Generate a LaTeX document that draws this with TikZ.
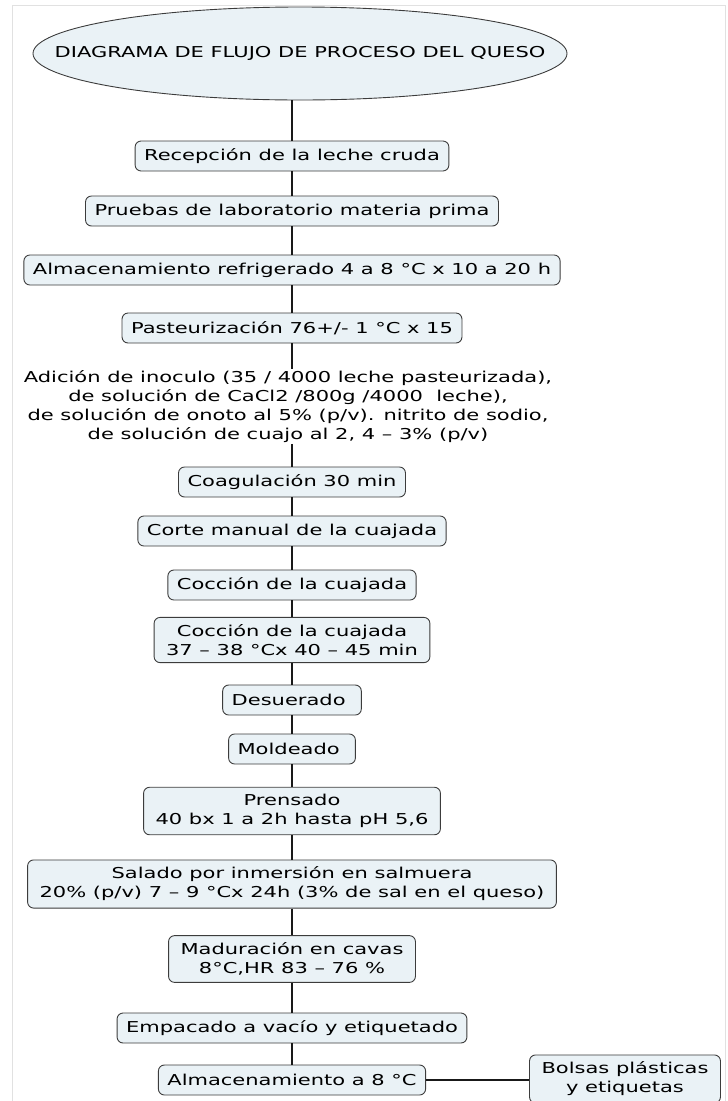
\documentclass[tikz,border=0pt]{standalone}
\usepackage{fontspec}
\setmainfont{DejaVu Sans}[FakeStretch=1.4]
\usepackage{tikz}
\usetikzlibrary{shapes.geometric,positioning}
\definecolor{cBox}  {RGB}{234,242,246}
\definecolor{cEdge} {RGB}{60,60,60}
\definecolor{cLine} {RGB}{25,25,25}
\definecolor{cFrame}{RGB}{225,225,225}
\tikzset{
  stepbox/.style={draw=cEdge,line width=0.9pt,rounded corners=6pt,fill=cBox,
                  minimum height=30pt,inner xsep=9pt,inner ysep=7pt,align=center},
  twobox/.style={stepbox,inner xsep=12pt},
  titlebox/.style={ellipse,draw=cEdge,line width=0.9pt,fill=cBox,
                   minimum width=534pt,minimum height=93pt,inner xsep=-60pt,inner ysep=20pt},
  note/.style={align=center,inner sep=1pt},
  link/.style={-,cLine,line width=1.6pt},
}

\begin{document}
\begin{tikzpicture}[x=1pt,y=-1pt,font=\fontsize{15}{19}\selectfont]
  \useasboundingbox (0,0) rectangle (728,1101);
  \draw[cFrame,line width=1pt] (12,1101)--(12,5)--(725,5)--(725,1101);
  \node[titlebox] (title) at (300,53.5) {DIAGRAMA DE FLUJO DE PROCESO DEL QUESO};
  \node[stepbox] (rec)   at (292,156) {Recepción de la leche cruda};
  \node[stepbox] (prue)  at (292,211) {Pruebas de laboratorio materia prima};
  \node[stepbox] (alm)   at (292,270) {Almacenamiento refrigerado 4 a 8 °C x 10 a 20 h};
  \node[stepbox] (past)  at (292,328) {Pasteurización 76+/- 1 °C x 15};
  \node[note]    (adic)  at (288,406.5) {Adición de inoculo (35 / 4000 leche pasteurizada),\\
    de solución de CaCl2 /800g /4000\ \ leche),\\
    de solución de onoto al 5\% (p/v). nitrito de sodio,\\
    de solución de cuajo al 2, 4 -- 3\% (p/v)};
  \node[stepbox] (coag)  at (292,482) {Coagulación 30 min};
  \node[stepbox] (corte) at (292,531) {Corte manual de la cuajada};
  \node[stepbox] (cocc)  at (292,585) {Cocción de la cuajada};
  \node[twobox]  (coccT) at (292,640) {Cocción de la cuajada\\37 -- 38 °Cx 40 -- 45 min};
  \node[stepbox] (desu)  at (292,700) {Desuerado\ };
  \node[stepbox] (mold)  at (292,749) {Moldeado\ };
  \node[twobox]  (prens) at (292,811) {Prensado\\40 bx 1 a 2h hasta pH 5,6};
  \node[twobox]  (sal)   at (292,884) {Salado por inmersión en salmuera\\20\% (p/v) 7 -- 9 °Cx 24h (3\% de sal en el queso)};
  \node[twobox]  (madu)  at (292,959) {Maduración en cavas\\8°C,HR 83 -- 76 \%};
  \node[stepbox] (emp)   at (292,1028) {Empacado a vacío y etiquetado};
  \node[stepbox] (almOcho) at (292,1080) {Almacenamiento a 8 °C};
  \node[twobox]  (bols)  at (625,1079) {Bolsas plásticas\\y etiquetas};
  % connectors
  \draw[link] (rec.north) -- (rec.north |- title.south);
  \foreach \a/\b in {rec/prue,prue/alm,alm/past,coag/corte,corte/cocc,cocc/coccT,
                     coccT/desu,desu/mold,mold/prens,prens/sal,sal/madu,madu/emp,emp/almOcho}
    \draw[link] (\a) -- (\b);
  \draw[link] (past) -- (past |- adic.north);
  \draw[link] (coag |- adic.south) -- (coag);
  \draw[link] (almOcho) -- (almOcho -| bols.west);
\end{tikzpicture}
\end{document}
